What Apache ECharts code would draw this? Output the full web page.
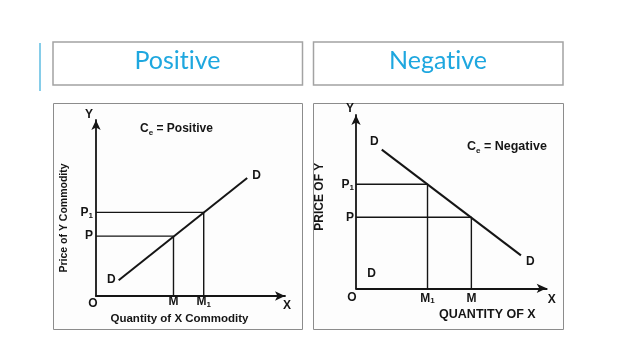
<!DOCTYPE html>
<html>
<head>
<meta charset="utf-8">
<style>
html,body{margin:0;padding:0;background:#fff;}
#chart{width:638px;height:359px;}
</style>
<script src="https://cdn.jsdelivr.net/npm/echarts@6/dist/echarts.min.js"></script>
</head>
<body>
<div id="chart"></div>
<script>
// ---------- data ----------
const headerTitles = ['Posit\u200Cive', 'Negat\u200Cive'];
const panelFormulas = ['Positive', 'Negative'];

// Positive cross elasticity panel
const posM = 41, posM1 = 57;
const posP = 34, posP1 = 47.5;
const posDemand = [[12, 9], [80, 67]];
const posXTickValues = [0, posM, posM1, 100];
const posXTickLabels = ['O', 'M', 'M1', 'X'];
const posYTickValues = [posP, posP1, 100];
const posYTickLabels = ['P', 'P1', 'Y'];
const posXTitle = 'Quantity of X Commodity';
const posYTitle = 'Price of Y Commodity';

// Negative cross elasticity panel
const negM1 = 37.5, negM = 60.5;
const negP1 = 60, negP = 41;
const negDemand = [[13.5, 80], [86.5, 19]];
const negStrayD = [[8.2, 8.7]];
const negXTickValues = [0, negM1, negM, 100];
const negXTickLabels = ['O', 'M1', 'M', 'X'];
const negYTickValues = [negP, negP1, 100];
const negYTickLabels = ['P', 'P1', 'Y'];
const negXTitle = 'QUANTITY OF X';
const negYTitle = 'PRICE OF Y';

// ---------- styling helpers ----------
const INK = '#151515';
const FF = '"Liberation Sans", Arial, sans-serif';

function richLabel(txt, key) {
  if (txt.length === 2) return '{' + key + '|' + txt[0] + '}{s|' + txt[1] + '}';
  return '{' + key + '|' + txt + '}';
}
function baseRich(extra) {
  const base = {fontSize: 12, fontWeight: 'bold', fontFamily: FF, color: INK, lineHeight: 12};
  const r = {
    a: Object.assign({}, base),
    s: {fontSize: 8, fontWeight: 'bold', fontFamily: FF, color: INK, lineHeight: 12, verticalAlign: 'bottom', padding: [0, 0, -1, 0]}
  };
  for (const k in extra) r[k] = Object.assign({}, base, extra[k]);
  return r;
}

function makeXAxis(gridIndex, values, labels, title, nameGap, namePad, margin, rich, keyFn, nameSize) {
  return {
    type: 'value', gridIndex: gridIndex, min: 0, max: 100,
    splitLine: {show: false},
    axisTick: {show: false},
    axisLine: {show: true, symbol: ['none', 'arrow'], symbolSize: [7, 10], lineStyle: {color: INK, width: 1.8}},
    axisLabel: {
      show: true, customValues: values, margin: margin,
      formatter: function (v) { const i = values.indexOf(v); return richLabel(labels[i], keyFn(i)); },
      rich: rich
    },
    name: title, nameLocation: 'middle', nameGap: nameGap,
    nameTextStyle: {fontSize: nameSize, fontWeight: 'bold', fontFamily: FF, color: INK, padding: namePad}
  };
}
function makeYAxis(gridIndex, values, labels, title, nameGap, namePad, margin, rich, keyFn, nameSize) {
  return {
    type: 'value', gridIndex: gridIndex, min: 0, max: 100,
    splitLine: {show: false},
    axisTick: {show: false},
    axisLine: {show: true, symbol: ['none', 'arrow'], symbolSize: [7, 10], lineStyle: {color: INK, width: 1.8}},
    axisLabel: {
      show: true, customValues: values, margin: margin,
      formatter: function (v) { const i = values.indexOf(v); return richLabel(labels[i], keyFn(i)); },
      rich: rich
    },
    name: title, nameLocation: 'middle', nameGap: nameGap, nameRotate: 90,
    nameTextStyle: {fontSize: nameSize, fontWeight: 'bold', fontFamily: FF, color: INK, padding: namePad}
  };
}

function dropLines(gridIdx, m, p) {
  return {
    type: 'line', xAxisIndex: gridIdx, yAxisIndex: gridIdx,
    data: [[0, p], [m, p], [m, 0]],
    symbol: 'none', lineStyle: {color: INK, width: 1.4}, silent: true, z: 3
  };
}
function demandLine(gridIdx, pts, labelCfgs) {
  return {
    type: 'line', xAxisIndex: gridIdx, yAxisIndex: gridIdx,
    data: pts.map(function (pt, i) {
      return {value: pt, label: Object.assign({show: true, formatter: 'D', fontSize: 12, fontWeight: 'bold', fontFamily: FF, color: INK}, labelCfgs[i])};
    }),
    symbol: 'circle', symbolSize: 0.01, showSymbol: true,
    itemStyle: {color: INK},
    lineStyle: {color: INK, width: 2}, silent: true, z: 4
  };
}

function ceTitle(word, left, top, size) {
  return {
    text: '{c|C}{s|e}{c| = ' + word + '}', left: left, top: top,
    textStyle: {rich: {
      c: {fontSize: size, fontWeight: 'bold', fontFamily: FF, color: INK, lineHeight: 14},
      s: {fontSize: 8, fontWeight: 'bold', fontFamily: FF, color: INK, lineHeight: 14, verticalAlign: 'bottom', padding: [0, 0, -1, 0]}
    }}
  };
}

const chart = echarts.init(document.getElementById('chart'), null, {renderer: 'canvas'});

const option = {
  animation: false,
  backgroundColor: '#ffffff',
  graphic: [
    {type: 'line', shape: {x1: 40, y1: 43, x2: 40, y2: 91}, style: {stroke: '#86cde9', lineWidth: 2}},
    {type: 'rect', shape: {x: 53, y: 42, width: 249.5, height: 43}, style: {fill: '#fff', stroke: '#a3a3a3', lineWidth: 1.5}},
    {type: 'rect', shape: {x: 313.5, y: 42, width: 249.5, height: 43}, style: {fill: '#fff', stroke: '#a3a3a3', lineWidth: 1.5}},
    {type: 'text', x: 177.5, y: 61, style: {text: headerTitles[0], textAlign: 'center', textVerticalAlign: 'middle', font: '25px Lato, "Open Sans", sans-serif', fill: '#1ea7df'}},
    {type: 'text', x: 438, y: 61, style: {text: headerTitles[1], textAlign: 'center', textVerticalAlign: 'middle', font: '25px Lato, "Open Sans", sans-serif', fill: '#1ea7df'}},
    {type: 'rect', z: -10, shape: {x: 53.5, y: 103.5, width: 249, height: 226}, style: {fill: '#fdfdfd', stroke: '#8c8c8c', lineWidth: 1}},
    {type: 'rect', z: -10, shape: {x: 313.5, y: 103.5, width: 250, height: 226}, style: {fill: '#fdfdfd', stroke: '#8c8c8c', lineWidth: 1}}
  ],
  title: [
    ceTitle(panelFormulas[0], 135, 117, 12),
    ceTitle(panelFormulas[1], 462, 135, 12.5)
  ],
  grid: [
    {left: 96, top: 120, width: 189, height: 176},
    {left: 356, top: 115, width: 190.7, height: 173.3}
  ],
  xAxis: [
    makeXAxis(0, posXTickValues, posXTickLabels, posXTitle, 17, [0, 22, 0, 0], 0,
      baseRich({o: {padding: [3, 6, 0, 0]}, x: {padding: [8, 0, 0, 4]}}),
      function (i) { return i === 0 ? 'o' : (i === 3 ? 'x' : 'a'); }, 11.5),
    makeXAxis(1, negXTickValues, negXTickLabels, negXTitle, 20, [0, 0, 0, 72], 3,
      baseRich({a: {padding: [3, 0, 0, 0]}, o: {padding: [0, 8, 0, 0]}, x: {padding: [4, 0, 0, 10]}}),
      function (i) { return i === 0 ? 'o' : (i === 3 ? 'x' : 'a'); }, 12.5)
  ],
  yAxis: [
    makeYAxis(0, posYTickValues, posYTickLabels, posYTitle, 26, [0, 20, 0, 0], 3,
      baseRich({y: {padding: [0, 0, 10, 0]}}),
      function (i) { return i === 2 ? 'y' : 'a'; }, 10.5),
    makeYAxis(1, negYTickValues, negYTickLabels, negYTitle, 30, [0, 0, 0, 10], 2,
      baseRich({y: {padding: [0, 0, 13, 0]}}),
      function (i) { return i === 2 ? 'y' : 'a'; }, 12)
  ],
  series: [
    dropLines(0, posM, posP),
    dropLines(0, posM1, posP1),
    demandLine(0, posDemand, [{position: 'left', distance: 3}, {position: 'right', distance: 5, offset: [0, -2]}]),
    dropLines(1, negM1, negP1),
    dropLines(1, negM, negP),
    demandLine(1, negDemand, [{position: 'left', distance: 3, offset: [0, -8]}, {position: 'right', distance: 5, offset: [0, 6]}]),
    {
      type: 'scatter', xAxisIndex: 1, yAxisIndex: 1, data: negStrayD,
      symbolSize: 0.01, itemStyle: {color: INK, opacity: 1}, silent: true,
      label: {show: true, position: 'inside', formatter: 'D', fontSize: 12, fontWeight: 'bold', fontFamily: FF, color: INK}
    }
  ]
};
chart.setOption(option);
</script>
</body>
</html>
